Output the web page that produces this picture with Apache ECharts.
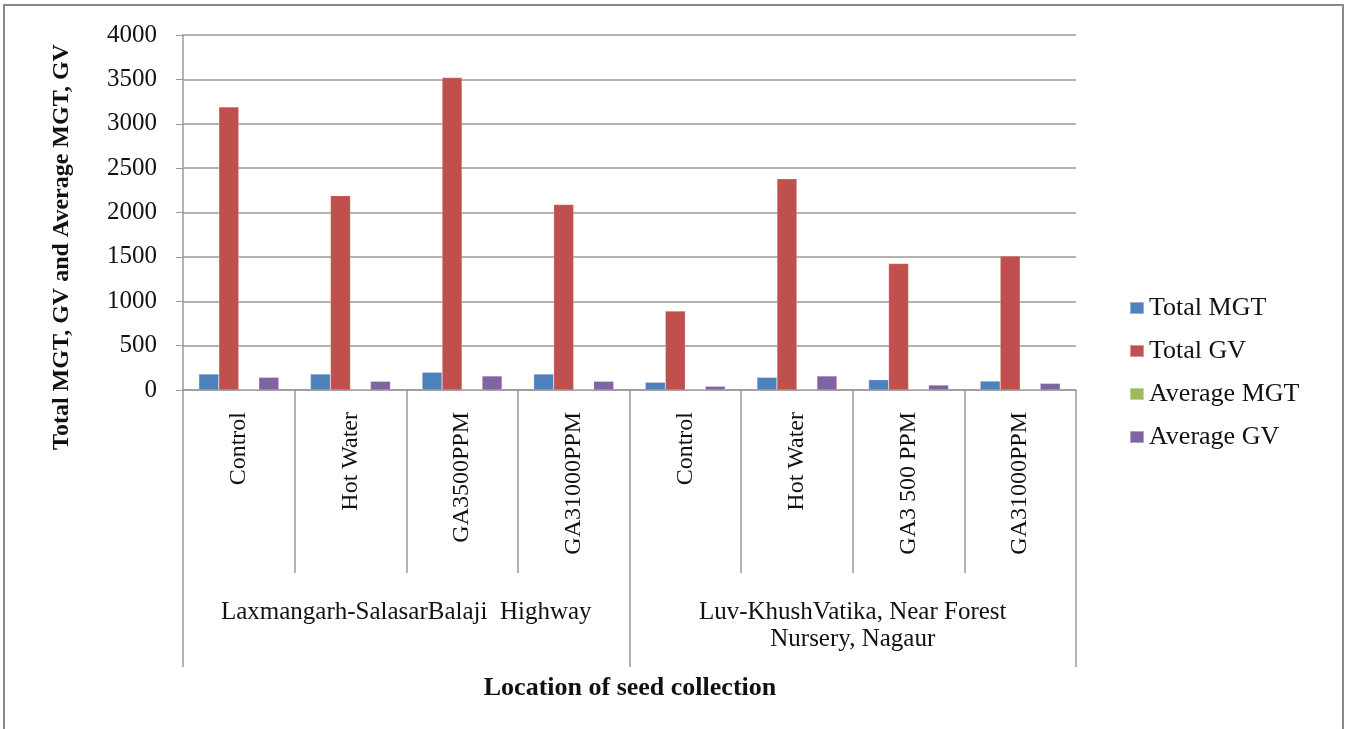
<!DOCTYPE html>
<html>
<head>
<meta charset="utf-8">
<script src="https://cdn.jsdelivr.net/npm/echarts@6/dist/echarts.min.js"></script>
<style>
html,body{margin:0;padding:0;background:#fff;}
#chart{width:1349px;height:729px;}
</style>
</head>
<body>
<div id="chart"></div>
<script>
const categories = ['Control','Hot Water','GA3500PPM','GA31000PPM','Control','Hot Water','GA3 500 PPM','GA31000PPM'];
const groups = ['Laxmangarh-SalasarBalaji  Highway','Luv-KhushVatika, Near Forest\nNursery, Nagaur'];
const totalMGT = [180, 180, 200, 180, 87, 143, 116, 101];
const totalGV = [3190, 2190, 3520, 2090, 890, 2380, 1425, 1510];
const averageMGT = [4.5, 4.5, 5, 4.5, 2.2, 3.6, 2.9, 2.5];
const averageGV = [143, 98, 158, 98, 42, 158, 56, 75];
const seriesNames = ['Total MGT','Total GV','Average MGT','Average GV'];
const yTicks = [0, 500, 1000, 1500, 2000, 2500, 3000, 3500, 4000];

const colors = ['#4F81BD','#C0504D','#9BBB59','#8064A2'];
const font = '"Liberation Serif","DejaVu Serif",serif';
const chart = echarts.init(document.getElementById('chart'));
const seriesData = [totalMGT, totalGV, averageMGT, averageGV];

chart.setOption({
  animation: false,
  color: colors,
  grid: {left: 183, right: 273, top: 35, bottom: 339},
  legend: {
    orient: 'vertical', left: 1124, top: 290,
    itemWidth: 14, itemHeight: 12, itemGap: 17,
    icon: 'rect',
    data: seriesNames,
    textStyle: {fontFamily: font, fontSize: 26, color: '#111', padding: [0, 0, 0, 0]}
  },
  xAxis: [{
    type: 'category', data: categories, position: 'bottom',
    axisLine: {lineStyle: {color: '#999', width: 1.5}},
    axisTick: {show: true, length: 183, interval: 0, lineStyle: {color: '#999', width: 1.5}},
    axisLabel: {rotate: 90, interval: 0, margin: 22, fontFamily: font, fontSize: 24, color: '#111'}
  }, {
    type: 'category', data: groups, position: 'bottom',
    axisLine: {show: false},
    axisTick: {show: true, length: 277, interval: 0, lineStyle: {color: '#999', width: 1.5}},
    axisLabel: {interval: 0, margin: 209, fontFamily: font, fontSize: 25, lineHeight: 27, color: '#111'}
  }],
  yAxis: {
    type: 'value', min: yTicks[0], max: yTicks[yTicks.length-1], interval: 500,
    axisLine: {show: true, lineStyle: {color: '#999', width: 1.5}},
    axisTick: {show: true, length: 7, lineStyle: {color: '#999'}},
    splitLine: {lineStyle: {color: '#999', width: 1.5}},
    axisLabel: {margin: 26, fontFamily: font, fontSize: 25, color: '#111', formatter: v => String(v)}
  },
  series: seriesNames.map((n, i) => ({
    name: n, type: 'bar', data: seriesData[i], xAxisIndex: 0,
    barWidth: 20, barGap: '0%',
    itemStyle: {color: colors[i], borderColor: 'rgba(255,255,255,0.4)', borderWidth: 0.5}
  })),
  graphic: [
    {type: 'rect', silent: true, shape: {x: 4, y: 5, width: 1339, height: 740},
     style: {fill: 'none', stroke: '#888', lineWidth: 2}},
    {type: 'text', x: 62, y: 247, rotation: Math.PI/2,
     style: {text: 'Total MGT, GV and Average MGT, GV', font: 'bold 24px ' + font, fill: '#111',
             textAlign: 'center', textVerticalAlign: 'middle'}},
    {type: 'text', x: 630, y: 688,
     style: {text: 'Location of seed collection', font: 'bold 26px ' + font, fill: '#111',
             textAlign: 'center', textVerticalAlign: 'middle'}}
  ]
});
</script>
</body>
</html>
